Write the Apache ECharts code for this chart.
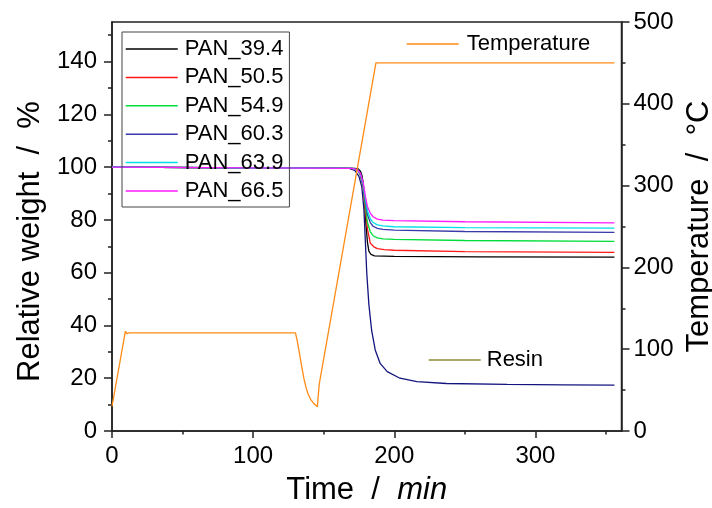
<!DOCTYPE html>
<html><head><meta charset="utf-8">
<script src="https://cdn.jsdelivr.net/npm/echarts@6/dist/echarts.min.js"></script>
<style>html,body{margin:0;padding:0;background:#fff}#c{width:712px;height:508px}</style>
</head><body><div id="c"></div>
<script>
// ---- data (time in min, weight in %, temperature in °C) ----
const xTicks = [0, 100, 200, 300];
const xMinor = [50, 150, 250, 350];
const yTicks = [0, 20, 40, 60, 80, 100, 120, 140];
const yMinor = [10, 30, 50, 70, 90, 110, 130, 150];

const pan394 = [[0,100],[100,99.7],[172,99.5],[174.5,99.3],[176,98.5],[177,97],[178,94],[179,87],[180,78],[181,71.5],[182,68.2],[183.5,66.9],[186,66.4],[200,66.2],[260,66.0],[356,65.9]];
const pan505 = [[0,100],[100,99.7],[170,99.5],[174,99.0],[176,97.0],[178,92],[179.5,84],[181,76.5],[183,71.2],[185.5,69.8],[188,69.1],[193,68.7],[200,68.5],[250,68.0],[356,67.7]];
const pan549 = [[0,100],[100,99.7],[170,99.5],[174,99.0],[176,97.0],[178,92.5],[179.5,85.5],[181,79],[183,75.5],[185,74],[188,73.2],[192,72.8],[200,72.6],[250,72.2],[356,71.9]];
const pan603 = [[0,100],[100,99.7],[170,99.5],[174,99.0],[176,97.2],[178,93],[179.5,87],[181,82],[183,79],[185,77.6],[188,76.8],[192,76.4],[200,76.1],[250,75.6],[356,75.3]];
const pan639 = [[0,100],[100,99.7],[170,99.5],[174,99.0],[176,97.4],[178,93.5],[179.5,88],[181,83.5],[183,80.5],[185,79.0],[188,78.1],[192,77.7],[200,77.4],[250,77.1],[356,76.9]];
const pan665 = [[0,100],[100,99.7],[170,99.5],[174,99.0],[176,97.6],[178,94.0],[179.5,89],[181,85],[183,82.6],[185,81.2],[188,80.3],[192,79.9],[200,79.7],[250,79.3],[356,78.9]];
const resin = [[0,100],[100,99.7],[168,99.5],[172,98.8],[175,96.5],[177,92.5],[178.5,84],[179.5,72],[180.5,60],[182,48],[184,38],[186.5,30.7],[190,25.6],[195,22.5],[204,20],[216,18.7],[237,18.0],[280,17.7],[320,17.5],[356,17.4]];
const temperature = [[0,30],[9.5,122],[10.5,119],[12,120],[130,120],[131.5,108],[133,93],[134.5,78],[136,64],[137.5,53],[139,45],[141,38],[143,33.5],[145.5,29.7],[146.8,57],[187,450],[356,450]];

const FONT = 'Liberation Sans, Arial, sans-serif';
const chart = echarts.init(document.getElementById('c'), null, {renderer: 'canvas'});

function line(name, data, color, yIdx) {
  return {type: 'line', name: name, data: data, yAxisIndex: yIdx || 0, xAxisIndex: 0,
    symbol: 'none', showSymbol: false, smooth: false, animation: false,
    lineStyle: {color: color, width: 1.3}, itemStyle: {color: color}};
}
const axisLineStyle = {color: '#222', width: 1.5};
const legendCommon = {itemWidth: 52, itemHeight: 22, selectedMode: false,
  itemStyle: {opacity: 0}, lineStyle: {width: 1.5}};

chart.setOption({
  animation: false,
  backgroundColor: '#fff',
  textStyle: {fontFamily: FONT},
  grid: {left: 112, right: 90.5, top: 22, bottom: 77, show: true, borderColor: '#222', borderWidth: 1.5, outerBoundsMode: 'none', containLabel: false},
  xAxis: [
    {type: 'value', min: 0, max: 361, position: 'bottom',
     name: '{a|Time  /  }{b|min}', nameLocation: 'middle', nameGap: 44,
     nameTextStyle: {rich: {a: {fontSize: 31, fontFamily: FONT, color: '#000'}, b: {fontSize: 31, fontFamily: FONT, fontStyle: 'italic', color: '#000'}}},
     axisLine: {show: true, lineStyle: axisLineStyle, onZero: false},
     axisTick: {show: true, customValues: xTicks, length: 7, lineStyle: axisLineStyle},
     axisLabel: {customValues: xTicks, margin: 13, fontSize: 24, color: '#000', fontFamily: FONT},
     splitLine: {show: false}},
    {type: 'value', min: 0, max: 361, position: 'bottom',
     axisLine: {show: false}, axisLabel: {show: false}, splitLine: {show: false},
     axisTick: {show: true, customValues: xMinor, length: 3.5, lineStyle: axisLineStyle}}
  ],
  yAxis: [
    {type: 'value', min: 0, max: 155, position: 'left',
     name: 'Relative weight  /  %', nameLocation: 'middle', nameRotate: 90, nameGap: 64,
     nameTextStyle: {fontSize: 31, color: '#000', fontFamily: FONT, padding: [0, 30, 0, 0]},
     axisLine: {show: true, lineStyle: axisLineStyle, onZero: false},
     axisTick: {show: true, customValues: yTicks, length: 8, lineStyle: axisLineStyle},
     axisLabel: {customValues: yTicks, margin: 15, fontSize: 24, color: '#000', fontFamily: FONT},
     splitLine: {show: false}},
    {type: 'value', min: 0, max: 155, position: 'left',
     axisLine: {show: false}, axisLabel: {show: false}, splitLine: {show: false},
     axisTick: {show: true, customValues: yMinor, length: 4, lineStyle: axisLineStyle}},
    {type: 'value', min: 0, max: 500, interval: 100, position: 'right',
     name: 'Temperature  /  °C', nameLocation: 'middle', nameRotate: 90, nameGap: 57,
     nameTextStyle: {fontSize: 31, color: '#000', fontFamily: FONT},
     axisLine: {show: true, lineStyle: axisLineStyle, onZero: false},
     axisTick: {show: true, length: 8, lineStyle: axisLineStyle},
     minorTick: {show: true, splitNumber: 2, length: 4, lineStyle: axisLineStyle},
     axisLabel: {margin: 12, fontSize: 24, color: '#000', fontFamily: FONT},
     splitLine: {show: false}}
  ],
  legend: [
    Object.assign({data: ['PAN_39.4','PAN_50.5','PAN_54.9','PAN_60.3','PAN_63.9','PAN_66.5'],
     orient: 'vertical', left: 122, top: 32, padding: [6, 6, 5, 3],
     itemGap: 6.4, borderColor: '#444', borderWidth: 1,
     textStyle: {fontSize: 22, color: '#000', fontFamily: FONT, lineHeight: 22, padding: [0,0,0,2]}}, legendCommon),
    Object.assign({data: ['Temperature'], orient: 'vertical', left: 406, top: 33, padding: 0,
     textStyle: {fontSize: 22, color: '#000', fontFamily: FONT, lineHeight: 22, padding: [0,0,0,3]}}, legendCommon),
    Object.assign({data: ['Resin'], orient: 'vertical', left: 428, top: 349, padding: 0,
     textStyle: {fontSize: 22, color: '#000', fontFamily: FONT, lineHeight: 22, padding: [0,0,0,1]}}, legendCommon)
  ],
  series: [
    line('Resin', [], '#8f8a38'),
    line('Resin curve', resin, '#14147f'),
    line('PAN_39.4', pan394, '#000000'),
    line('PAN_50.5', pan505, '#ff1a1a'),
    line('PAN_54.9', pan549, '#00dd3a'),
    line('PAN_60.3', pan603, '#3a3aaa'),
    line('PAN_63.9', pan639, '#00e0e6'),
    line('PAN_66.5', pan665, '#ff1aff'),
    line('Temperature', temperature, '#ff8a14', 2)
  ]
});
</script></body></html>
